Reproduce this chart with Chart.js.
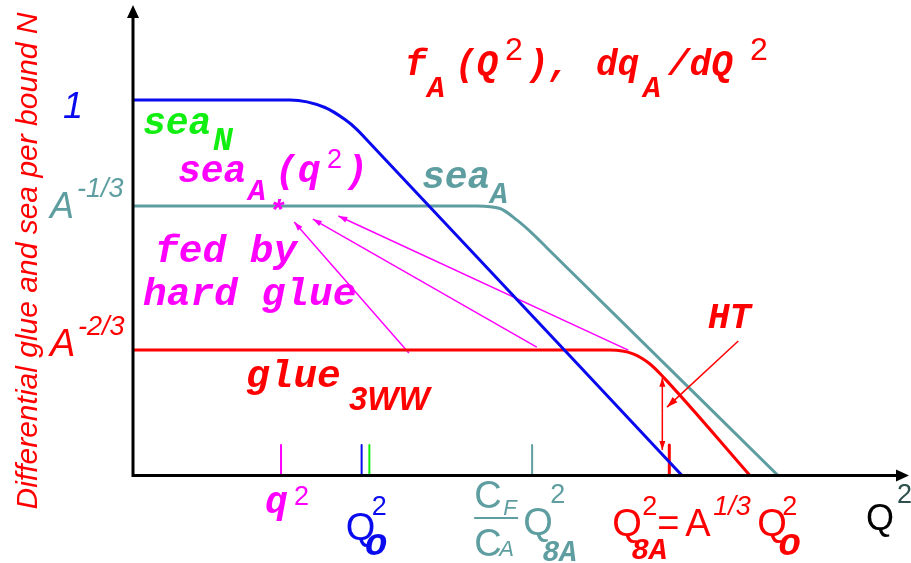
<!DOCTYPE html>
<html>
<head>
<meta charset="utf-8">
<script src="https://cdn.jsdelivr.net/npm/chart.js@4.4.0/dist/chart.umd.min.js"></script>
<style>
html, body { margin: 0; padding: 0; background: #fff; }
#wrap { width: 911px; height: 563px; position: relative; }
</style>
</head>
<body>
<div id="wrap"><canvas id="glue"></canvas></div>
<script>
// Q^2 runs 0..100 (arbitrary), heights are relative to the sea_N plateau
var seaN_x = [0, 20.26, 24.77, 27.35, 28.77, 30.58, 70.84]
var seaN_y = [1, 1, 0.980, 0.948, 0.924, 0.885, 0]
var seaA_x = [0, 44.39, 47.35, 49.55, 51.61, 53.42, 83.23]
var seaA_y = [0.718, 0.718, 0.711, 0.680, 0.643, 0.606, 0]
var glue_x = [0, 61.55, 64.52, 66.71, 68.52, 79.61]
var glue_y = [0.334, 0.334, 0.324, 0.297, 0.260, 0]

// marks on the Q^2 axis: q^2, Q0^2 (sea_N / glue), CF/CA Q8A^2, Q8A^2
var xTickValues = [19.1, 29.5, 30.5, 51.5, 69.2]
var xTickTop = 0.081
var yTickValues = [1, 0.718, 0.334]
var yTickLabels = ['1', 'A-1/3', 'A-2/3']

// "fed by hard glue" arrows: tail on glue plateau -> head under sea_A(q^2)
var fedFrom_x = [35.6, 52.1, 63.9]
var fedFrom_y = [0.326, 0.342, 0.334]
var fedTo_x = [20.8, 23.2, 26.5]
var fedTo_y = [0.675, 0.683, 0.691]

// HT gap and its pointer
var gap_x = 68.3, gap_top = 0.26, gap_bottom = 0.068
var ht_from = [78.1, 0.358], ht_to = [68.9, 0.182]

var BLUE = '#0a0aef', TEAL = '#5f9ea0', RED = '#ff0000', MAG = '#ff00ff', GREEN = '#11ee11'
var MONO = '"Liberation Mono", "DejaVu Sans Mono", monospace'
var SANS = '"Liberation Sans", Arial, sans-serif'
function mono(px) { return 'italic bold ' + px + 'px ' + MONO }
function sans(px, it) { return (it ? 'italic ' : '') + px + 'px ' + SANS }

function pts(xs, ys) {
    return xs.map(function (x, i) { return { x: x, y: ys[i] } })
}

var tickColors = [MAG, BLUE, GREEN, TEAL, RED]
var tickWidths = [2, 2, 2, 2, 3]

var datasets = [
    { data: pts(seaN_x, seaN_y), borderColor: BLUE, borderWidth: 3, cubicInterpolationMode: 'monotone' },
    { data: pts(glue_x, glue_y), borderColor: RED, borderWidth: 3, cubicInterpolationMode: 'monotone' },
    { data: pts(seaA_x, seaA_y), borderColor: TEAL, borderWidth: 3, cubicInterpolationMode: 'monotone' }
]
xTickValues.forEach(function (v, i) {
    datasets.push({ data: [{ x: v, y: 0 }, { x: v, y: xTickTop }], borderColor: tickColors[i], borderWidth: tickWidths[i] })
})

// rich text pieces: [text, dx, baseline, font, color]
var xTickText = [
    [['q', -16, 513, mono(38), MAG], ['2', 13, 505, sans(27), MAG]],
    [['Q', -16, 540, sans(38), BLUE], ['2', 10, 515, sans(27), BLUE], ['o', 3, 555, mono(38), BLUE]],
    null,
    [['C', -58, 508, sans(38), TEAL], ['F', -29, 515, sans(22, true), TEAL],
     ['C', -58, 556, sans(38), TEAL], ['A', -33, 556, sans(22, true), TEAL],
     ['Q', -9, 535, sans(38), TEAL], ['2', 18, 503, sans(27), TEAL], ['8A', 10, 561, mono(29), TEAL]],
    [['Q', -57, 536, sans(38), RED], ['2', -27, 515, sans(27), RED], ['8A', -38, 559, mono(30), RED],
     ['=', -12, 536, sans(38), RED], ['A', 16, 536, sans(38), RED], ['1/3', 44, 515, sans(27, true), RED],
     ['Q', 88, 536, sans(38), RED], ['2', 113, 515, sans(27), RED], ['o', 109, 555, mono(38), RED]]
]
var yTickText = [
    [['1', 63, 18, sans(36, true), BLUE]],
    [['A', 50, 12, sans(36, true), TEAL], ['-1/3', 77, -9, sans(27, true), TEAL]],
    [['A', 50, 6, sans(38, true), RED], ['-2/3', 78, -15, sans(27, true), RED]]
]
var notes = [
    ['f', 405, 75, mono(36), RED], ['A', 427, 97, mono(30), RED], ['(Q', 455, 75, mono(36), RED],
    ['2', 505, 60, sans(32), RED], ['),', 527, 75, mono(36), RED], ['dq', 596, 75, mono(36), RED],
    ['A', 643, 97, mono(30), RED], ['/dQ', 668, 75, mono(36), RED], ['2', 750, 60, sans(32), RED],
    ['sea', 143, 134, mono(38), GREEN], ['N', 213, 150, mono(33), GREEN],
    ['sea', 178, 182, mono(38), MAG], ['A', 248, 200, mono(30), MAG], ['*', 268, 221, mono(30), MAG],
    ['(q', 275, 182, mono(38), MAG], ['2', 327, 168, sans(27), MAG], [')', 345, 182, mono(38), MAG],
    ['sea', 422, 188, mono(38), TEAL], ['A', 490, 203, mono(30), TEAL],
    ['fed by', 155, 262, mono(39.5), MAG], ['hard glue', 143, 305, mono(39.5), MAG],
    ['glue', 246, 387, mono(39.5), RED], ['3WW', 349, 410, 'italic bold 33px ' + SANS, RED],
    ['HT', 708, 328, mono(36), RED]
]

function put(ctx, p, ox, oy) {
    ctx.font = p[3]
    ctx.fillStyle = p[4]
    ctx.fillText(p[0], ox + p[1], oy + p[2])
}

function arrowHead(ctx, x0, y0, x1, y1, len, half) {
    var a = Math.atan2(y1 - y0, x1 - x0)
    ctx.beginPath()
    ctx.moveTo(x1, y1)
    ctx.lineTo(x1 - len * Math.cos(a) + half * Math.sin(a), y1 - len * Math.sin(a) - half * Math.cos(a))
    ctx.lineTo(x1 - len * Math.cos(a) - half * Math.sin(a), y1 - len * Math.sin(a) + half * Math.cos(a))
    ctx.closePath()
    ctx.fill()
}

function arrow(ctx, x0, y0, x1, y1, color, w, len, half) {
    ctx.strokeStyle = color
    ctx.fillStyle = color
    ctx.lineWidth = w
    ctx.beginPath()
    ctx.moveTo(x0, y0)
    ctx.lineTo(x1, y1)
    ctx.stroke()
    arrowHead(ctx, x0, y0, x1, y1, len, half)
}

var decor = {
    id: 'decor',
    beforeDatasetsDraw: function (chart) {
        var ctx = chart.ctx, xs = chart.scales.x, ys = chart.scales.y
        ctx.save()
        for (var i = 0; i < fedFrom_x.length; i++) {
            arrow(ctx, xs.getPixelForValue(fedFrom_x[i]), ys.getPixelForValue(fedFrom_y[i]),
                xs.getPixelForValue(fedTo_x[i]), ys.getPixelForValue(fedTo_y[i]), MAG, 1.5, 9, 3)
        }
        ctx.restore()
    },
    afterDatasetsDraw: function (chart) {
        var ctx = chart.ctx, xs = chart.scales.x, ys = chart.scales.y
        var x0 = xs.getPixelForValue(0), y0 = ys.getPixelForValue(0)
        ctx.save()
        // axes with arrow heads
        ctx.strokeStyle = '#000'
        ctx.fillStyle = '#000'
        ctx.lineWidth = 3
        ctx.beginPath()
        ctx.moveTo(x0, 14)
        ctx.lineTo(x0, y0)
        ctx.lineTo(900, y0)
        ctx.stroke()
        arrowHead(ctx, x0, 30, x0, 5, 13, 6)
        arrowHead(ctx, 880, y0, 909, y0, 13, 6)

        // HT: gap between glue and the straight line, and its pointer
        var gx = xs.getPixelForValue(gap_x)
        var gt = ys.getPixelForValue(gap_top), gb = ys.getPixelForValue(gap_bottom)
        arrow(ctx, gx, (gt + gb) / 2, gx, gt, RED, 1.5, 9, 3)
        arrow(ctx, gx, (gt + gb) / 2, gx, gb, RED, 1.5, 9, 3)
        arrow(ctx, xs.getPixelForValue(ht_from[0]), ys.getPixelForValue(ht_from[1]),
            xs.getPixelForValue(ht_to[0]), ys.getPixelForValue(ht_to[1]), RED, 1.5, 11, 3.5)

        ctx.textBaseline = 'alphabetic'
        ctx.textAlign = 'left'
        // axis labels
        xTickText.forEach(function (parts, i) {
            if (!parts) return
            var tx = xs.getPixelForValue(xTickValues[i])
            parts.forEach(function (p) { put(ctx, p, tx, 0) })
            if (i === 3) {
                ctx.strokeStyle = TEAL
                ctx.lineWidth = 2
                ctx.beginPath()
                ctx.moveTo(tx - 58, 518)
                ctx.lineTo(tx - 14, 518)
                ctx.stroke()
            }
        })
        yTickText.forEach(function (parts, i) {
            var ty = ys.getPixelForValue(yTickValues[i])
            parts.forEach(function (p) { put(ctx, p, 0, ty) })
        })
        ctx.font = sans(36)
        ctx.fillStyle = '#000'
        ctx.fillText('Q', 866, 530)
        ctx.font = sans(27)
        ctx.fillStyle = '#2f4f4f'
        ctx.fillText('2', 897, 503)

        notes.forEach(function (p) { put(ctx, p, 0, 0) })

        // vertical axis title
        ctx.translate(37, 261)
        ctx.rotate(-Math.PI / 2)
        ctx.textAlign = 'center'
        ctx.font = sans(30, true)
        ctx.fillStyle = RED
        ctx.fillText('Differential glue and sea per bound N', 0, 0)
        ctx.restore()
    }
}

new Chart(document.getElementById('glue'), {
    type: 'line',
    data: { datasets: datasets },
    options: {
        responsive: true,
        maintainAspectRatio: false,
        devicePixelRatio: 1,
        animation: false,
        events: [],
        layout: { padding: { left: 133, right: 3, top: 8, bottom: 87.5 } },
        elements: { point: { radius: 0 }, line: { borderCapStyle: 'round', fill: false } },
        scales: {
            x: { type: 'linear', min: 0, max: 100, display: false },
            y: { type: 'linear', min: 0, max: 1.245, display: false }
        },
        plugins: { legend: { display: false }, tooltip: { enabled: false } }
    },
    plugins: [decor]
})
</script>
</body>
</html>
